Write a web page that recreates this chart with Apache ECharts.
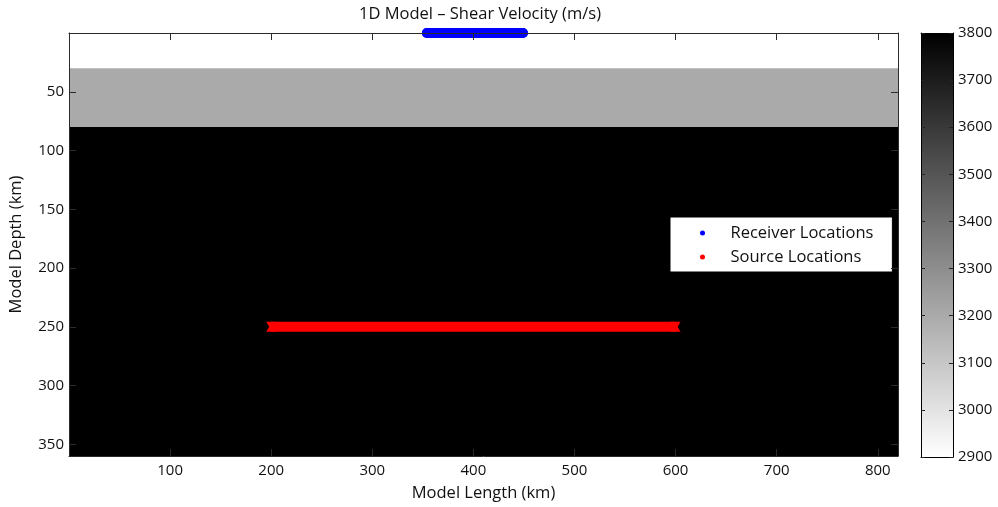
<!DOCTYPE html>
<html>
<head>
<meta charset="utf-8">
<script src="https://cdn.jsdelivr.net/npm/echarts@6/dist/echarts.min.js"></script>
<style>html,body{margin:0;padding:0;background:#fff;}#c{width:998px;height:507px;}</style>
</head>
<body>
<div id="c"></div>
<script>
// Model layers: [xStart, xEnd, depthTop, depthBottom, shear velocity (m/s)]
var layerXStart = [0, 0, 0];
var layerXEnd = [820, 820, 820];
var layerTop = [0, 30, 80];
var layerBottom = [30, 80, 360];
var layerVs = [2900, 3200, 3800];

// Receiver locations (km along model, depth km)
var receiverX = [354, 359, 364, 369, 374, 379, 384, 389, 394, 399, 404, 409, 414, 419, 424, 429, 434, 439, 444, 449];
var receiverDepth = 0;

// Source locations
var sourceX = [200, 210, 220, 230, 240, 250, 260, 270, 280, 290, 300, 310, 320, 330, 340, 350, 360, 370, 380, 390, 400,
               410, 420, 430, 440, 450, 460, 470, 480, 490, 500, 510, 520, 530, 540, 550, 560, 570, 580, 590, 600];
var sourceDepth = 250;

var xTicks = [100, 200, 300, 400, 500, 600, 700, 800];
var yTicks = [50, 100, 150, 200, 250, 300, 350];
var cbTicks = [2900, 3000, 3100, 3200, 3300, 3400, 3500, 3600, 3700, 3800];

var FONT = 'Open Sans';
var layers = layerVs.map(function (v, i) { return [layerXStart[i], layerXEnd[i], layerTop[i], layerBottom[i], v]; });
var receivers = receiverX.map(function (x) { return [x, receiverDepth]; });
var sources = sourceX.map(function (x) { return [x, sourceDepth]; });
// dense 'x' markers: a filled block with a notch on each side
var xSym = 'path://M0,0 L10,0 L7,5 L10,10 L0,10 L3,5 Z';

var chart = echarts.init(document.getElementById('c'), null, {renderer: 'canvas'});
var axisCol = '#2b2b2b';
var tickStyle = {fontFamily: FONT, fontSize: 15, color: '#111'};
var nameStyle = {fontFamily: FONT, fontSize: 16.5, color: '#111'};

function mkAxisLine(col) { return {show: true, onZero: false, lineStyle: {color: col, width: 1}}; }

chart.setOption({
  animation: false,
  backgroundColor: '#fff',
  title: {
    text: '1D Model \u2013 Shear Velocity (m/s)',
    left: 475, top: 1, textAlign: 'center',
    textStyle: {fontFamily: FONT, fontSize: 16.5, fontWeight: 'normal', color: '#111'}
  },
  grid: [
    {left: 69, top: 33, right: 100, bottom: 50},
    {left: 921, top: 33, width: 32, bottom: 50}
  ],
  visualMap: {
    show: false, type: 'continuous', min: 2900, max: 3800, dimension: 4, seriesIndex: 0,
    inRange: {color: ['#ffffff', '#000000']}
  },
  legend: {
    orient: 'vertical', left: 670, top: 217,
    padding: [7, 19, 6, 30], itemGap: 6, itemWidth: 46, itemHeight: 5,
    backgroundColor: '#fff', borderColor: '#000', borderWidth: 1, borderRadius: 0,
    textStyle: {fontFamily: FONT, fontSize: 16.5, color: '#111', lineHeight: 18},
    data: [{name: 'Receiver Locations', icon: 'circle'}, {name: 'Source Locations', icon: 'circle'}],
    selectedMode: false
  },
  xAxis: [
    {type: 'value', gridIndex: 0, position: 'bottom', min: 0, max: 820, interval: 100, z: 5,
     name: 'Model Length (km)', nameLocation: 'middle', nameGap: 29, nameTextStyle: nameStyle,
     axisLine: mkAxisLine(axisCol),
     axisTick: {show: true, inside: true, length: 7, lineStyle: {color: axisCol}},
     axisLabel: Object.assign({margin: 7, formatter: function (v) { return xTicks.indexOf(v) >= 0 ? String(v) : ''; }}, tickStyle),
     splitLine: {show: false}},
    {type: 'value', gridIndex: 0, position: 'top', min: 0, max: 820, interval: 100, z: 5,
     axisLine: mkAxisLine(axisCol),
     axisTick: {show: true, inside: true, length: 7, lineStyle: {color: axisCol}},
     axisLabel: {show: false}, splitLine: {show: false}},
    {type: 'value', gridIndex: 1, position: 'bottom', min: 0, max: 1,
     axisLine: mkAxisLine('#000'), axisTick: {show: false}, axisLabel: {show: false}, splitLine: {show: false}},
    {type: 'value', gridIndex: 1, position: 'top', min: 0, max: 1,
     axisLine: mkAxisLine('#000'), axisTick: {show: false}, axisLabel: {show: false}, splitLine: {show: false}}
  ],
  yAxis: [
    {type: 'value', gridIndex: 0, position: 'left', inverse: true, min: 0, max: 360, interval: 50, z: 5,
     name: 'Model Depth (km)', nameLocation: 'middle', nameGap: 44, nameRotate: 90, nameTextStyle: nameStyle,
     axisLine: mkAxisLine(axisCol),
     axisTick: {show: true, inside: true, length: 7, lineStyle: {color: axisCol}},
     axisLabel: Object.assign({margin: 5, formatter: function (v) { return yTicks.indexOf(v) >= 0 ? String(v) : ''; }}, tickStyle),
     splitLine: {show: false}},
    {type: 'value', gridIndex: 0, position: 'right', inverse: true, min: 0, max: 360, interval: 50, z: 5,
     axisLine: mkAxisLine(axisCol),
     axisTick: {show: true, inside: true, length: 7, lineStyle: {color: axisCol}},
     axisLabel: {show: false}, splitLine: {show: false}},
    {type: 'value', gridIndex: 1, position: 'right', min: 2900, max: 3800, interval: 100, z: 5,
     axisLine: mkAxisLine('#000'),
     axisTick: {show: true, inside: true, length: 4, lineStyle: {color: '#222'}},
     axisLabel: Object.assign({margin: 5, formatter: function (v) { return cbTicks.indexOf(v) >= 0 ? String(v) : ''; }}, tickStyle),
     splitLine: {show: false}},
    {type: 'value', gridIndex: 1, position: 'left', min: 2900, max: 3800, interval: 100, z: 5,
     axisLine: mkAxisLine('#000'),
     axisTick: {show: true, inside: true, length: 4, lineStyle: {color: '#222'}},
     axisLabel: {show: false}, splitLine: {show: false}}
  ],
  series: [
    {
      type: 'custom', name: 'layers', xAxisIndex: 0, yAxisIndex: 0, data: layers, z: 1,
      encode: {x: [0, 1], y: [2, 3]},
      renderItem: function (params, api) {
        var p0 = api.coord([api.value(0), api.value(2)]);
        var p1 = api.coord([api.value(1), api.value(3)]);
        return {type: 'rect', shape: {x: Math.min(p0[0], p1[0]), y: Math.min(p0[1], p1[1]),
          width: Math.abs(p1[0] - p0[0]), height: Math.abs(p1[1] - p0[1])},
          style: {fill: api.visual('color')}};
      }
    },
    {
      type: 'line', name: 'Receiver Locations', xAxisIndex: 0, yAxisIndex: 0, data: receivers, z: 3,
      clip: false, symbol: 'circle', symbolSize: 10, showSymbol: true,
      lineStyle: {color: '#0000ff', width: 10, cap: 'round'},
      itemStyle: {color: '#0000ff'}
    },
    {
      type: 'line', name: 'Source Locations', xAxisIndex: 0, yAxisIndex: 0, data: sources, z: 3,
      clip: false, showSymbol: true, symbolSize: 10,
      symbol: function (value, params) {
        return (params.dataIndex === 0 || params.dataIndex === sources.length - 1) ? xSym : 'none';
      },
      lineStyle: {color: '#ff0000', width: 10, cap: 'butt'},
      itemStyle: {color: '#ff0000'}
    },
    {
      type: 'custom', name: 'colorbar', xAxisIndex: 2, yAxisIndex: 2, data: [[0, 1, 2900, 3800]], z: 1,
      renderItem: function (params, api) {
        var p0 = api.coord([api.value(0), api.value(3)]);
        var p1 = api.coord([api.value(1), api.value(2)]);
        return {type: 'rect', shape: {x: p0[0], y: p0[1], width: p1[0] - p0[0], height: p1[1] - p0[1]},
          style: {fill: new echarts.graphic.LinearGradient(0, 0, 0, 1, [
            {offset: 0, color: '#000000'}, {offset: 1, color: '#ffffff'}])}};
      }
    }
  ]
});
</script>
</body>
</html>
